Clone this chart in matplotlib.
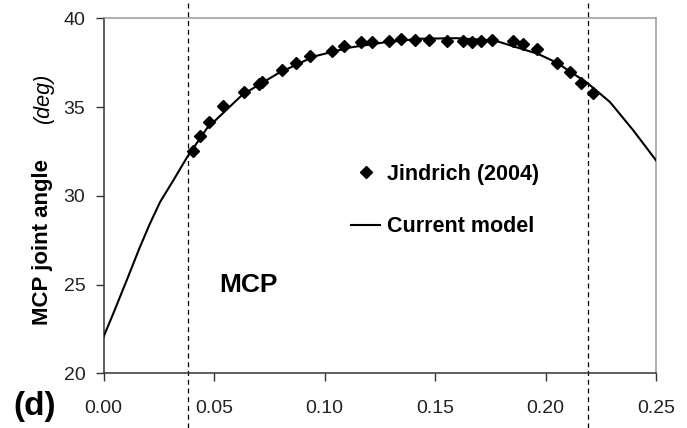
import matplotlib
matplotlib.use("Agg")
import matplotlib.pyplot as plt
import matplotlib.transforms as mtransforms

plt.rcParams['font.family'] = ['Liberation Sans', 'DejaVu Sans']

# Jindrich (2004) measurements
exp_t = [0.0403, 0.0435, 0.0476, 0.0540, 0.0637, 0.0702, 0.0718, 0.0806, 0.0871, 0.0935,
         0.1032, 0.1090, 0.1166, 0.1213, 0.1294, 0.1344, 0.1408, 0.1471, 0.1556, 0.1626,
         0.1666, 0.1706, 0.1758, 0.1855, 0.1900, 0.1960, 0.2053, 0.2113, 0.2161, 0.2215]
exp_angle = [32.50, 33.38, 34.14, 35.08, 35.85, 36.30, 36.43, 37.07, 37.48, 37.89,
             38.18, 38.46, 38.65, 38.65, 38.72, 38.85, 38.76, 38.80, 38.72, 38.70,
             38.68, 38.72, 38.80, 38.72, 38.53, 38.25, 37.48, 36.97, 36.35, 35.79]

# Model prediction
model_t = [0.0, 0.0044, 0.0105, 0.0165, 0.021, 0.0256, 0.0316, 0.0379, 0.0468, 0.0629,
           0.079, 0.0952, 0.1113, 0.1274, 0.1435, 0.1597, 0.1770, 0.1860, 0.1965, 0.2051,
           0.2190, 0.2292, 0.2397, 0.25]
model_angle = [22.05, 23.36, 25.24, 27.12, 28.43, 29.65, 30.87, 32.19, 33.8, 35.7,
               36.9, 37.85, 38.35, 38.65, 38.85, 38.88, 38.75, 38.4, 38.0, 37.5,
               36.35, 35.28, 33.69, 32.0]

# Stance phase boundaries
phase_bounds = [0.0381, 0.2192]

x_ticks = [0.00, 0.05, 0.10, 0.15, 0.20, 0.25]
y_ticks = [20, 25, 30, 35, 40]

W, H = 687, 428
fig = plt.figure(figsize=(W / 100, H / 100), dpi=100)
ax = fig.add_axes([103.5 / W, 1 - 373.3 / H, (656 - 103.5) / W, (373.3 - 18.3) / H])

ax.plot(model_t, model_angle, color='black', lw=1.5, label='Current model', zorder=3)
ax.plot(exp_t, exp_angle, linestyle='none', marker='D', ms=6, color='black',
        label='Jindrich (2004)', zorder=4)

trans = mtransforms.blended_transform_factory(ax.transData, fig.transFigure)
for xb in phase_bounds:
    ax.plot([xb, xb], [0, 1], transform=trans, color='black', lw=0.9,
            dashes=(4, 3), clip_on=False, zorder=2)

ax.set_xlim(0, 0.25)
ax.set_ylim(20, 40)
ax.set_xticks(x_ticks)
ax.set_xticklabels([f"{v:.2f}" for v in x_ticks])
ax.set_yticks(y_ticks)
ax.tick_params(axis='x', direction='out', length=6, width=1, pad=13,
               labelsize=14, colors='#333333', labelcolor='#222222')
ax.tick_params(axis='y', direction='out', length=6, width=1, pad=7,
               labelsize=14, colors='#333333', labelcolor='#222222')
for side in ('left', 'bottom'):
    ax.spines[side].set_color('#333333')
    ax.spines[side].set_linewidth(1.1)
for side in ('top', 'right'):
    ax.spines[side].set_color('#9a9a9a')
    ax.spines[side].set_linewidth(1.1)

# Legend
handles, labels = ax.get_legend_handles_labels()
leg = ax.legend(handles[::-1], labels[::-1], frameon=False, loc='upper left',
                bbox_to_anchor=(351 / W, 1 - 164 / H), bbox_transform=fig.transFigure,
                borderpad=0, borderaxespad=0, handlelength=1.35, handletextpad=0.3,
                labelspacing=1.45, prop={'weight': 'bold', 'size': 15.5})

ax.text(219 / W, 1 - 285 / H, 'MCP', transform=fig.transFigure, fontsize=19,
        fontweight='bold', ha='left', va='center')

# Axis title in two styles
fig.text(43 / W, 1 - 242 / H, 'MCP joint angle', rotation=90, fontsize=16,
         fontweight='bold', ha='center', va='center')
fig.text(43 / W, 1 - 98 / H, '(deg)', rotation=90, fontsize=15.5,
         fontstyle='italic', ha='center', va='center')

fig.text(35 / W, 1 - 406 / H, '(d)', fontsize=24, fontweight='bold',
         ha='center', va='center')

fig.savefig('out.png', dpi=100)
